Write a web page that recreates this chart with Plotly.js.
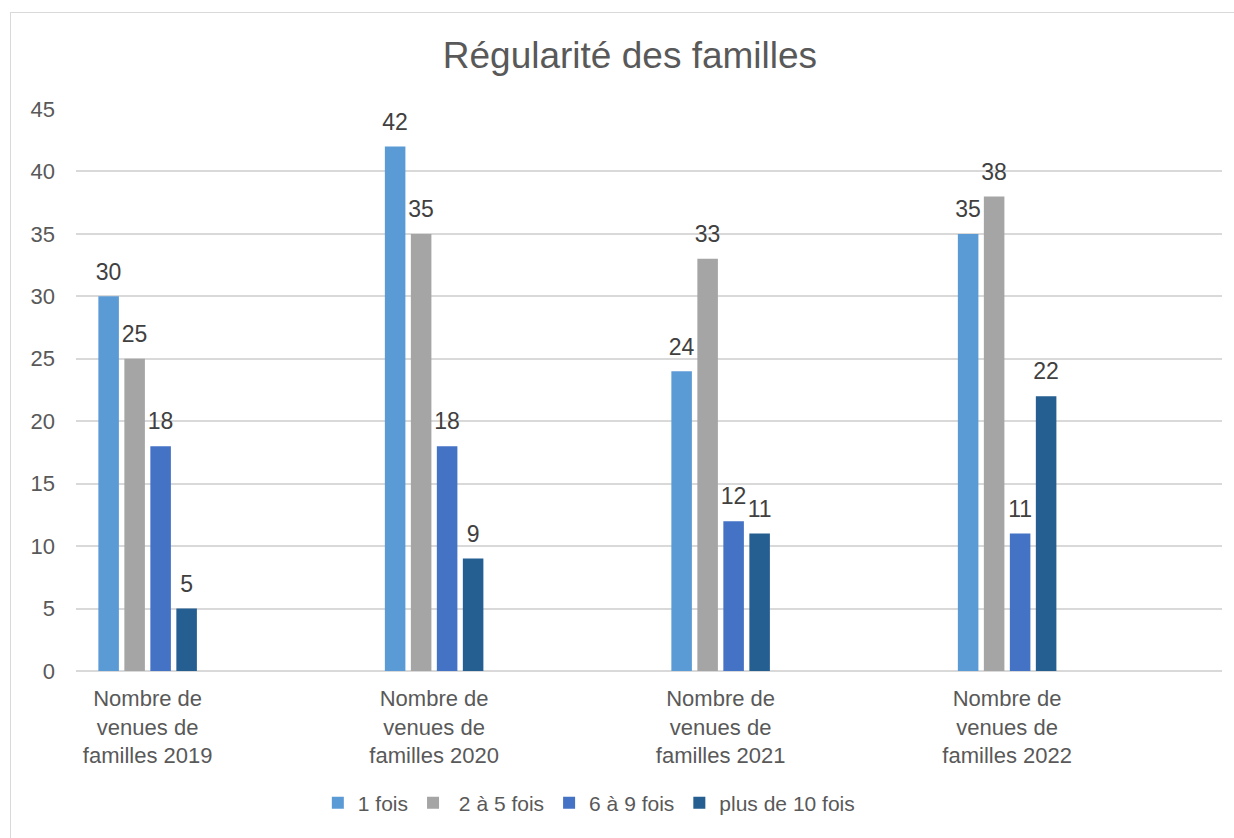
<!DOCTYPE html>
<html>
<head>
<meta charset="utf-8">
<script src="https://cdn.plot.ly/plotly-3.0.1.min.js"></script>
<style>
  html, body { margin: 0; padding: 0; background: #ffffff; overflow: hidden; }
  #frame { position: absolute; left: 10px; top: 12px; width: 1300px; height: 900px;
           border: 1.5px solid #D9D9D9; box-sizing: border-box; }
  #chart { position: absolute; left: 0; top: 0; width: 1234px; height: 838px; }
</style>
</head>
<body>
<div id="frame"></div>
<div id="chart"></div>
<script>
const categories = [
  "Nombre de<br>venues de<br>familles 2019",
  "Nombre de<br>venues de<br>familles 2020",
  "Nombre de<br>venues de<br>familles 2021",
  "Nombre de<br>venues de<br>familles 2022"
];
const seriesNames = ["1 fois", " 2 à 5 fois", "6 à 9 fois", "plus de 10 fois"];
const fois1 = [30, 42, 24, 35];
const fois2a5 = [25, 35, 33, 38];
const fois6a9 = [18, 18, 12, 11];
const plus10 = [5, 9, 11, 22];
const yTicks = [0, 5, 10, 15, 20, 25, 30, 35, 40, 45];

const colors = ["#5B9BD5", "#A5A5A5", "#4472C4", "#255E91"];
const seriesValues = [fois1, fois2a5, fois6a9, plus10];
const FONT = "Liberation Sans, Arial, sans-serif";

const barTraces = seriesValues.map((vals, i) => ({
  type: "bar",
  name: seriesNames[i],
  x: categories,
  y: vals,
  marker: { color: colors[i] },
  hoverinfo: "x+y+name"
}));

const labelTraces = seriesValues.map((vals, i) => ({
  type: "scatter",
  mode: "markers+text",
  name: seriesNames[i],
  showlegend: false,
  x: categories,
  y: vals,
  text: vals.map(String),
  textposition: "top center",
  textfont: { family: FONT, size: 23, color: "#404040" },
  marker: { size: 16, color: "rgba(0,0,0,0)" },
  cliponaxis: false,
  hoverinfo: "skip"
}));

const layout = {
  width: 1234,
  height: 838,
  paper_bgcolor: "rgba(0,0,0,0)",
  plot_bgcolor: "rgba(0,0,0,0)",
  margin: { l: 76, r: 12, t: 109, b: 167 },
  barmode: "group",
  bargap: 0.637,
  bargroupgap: 0.21,
  scattermode: "group",
  scattergap: 0.637,
  font: { family: FONT, size: 22, color: "#595959" },
  title: {
    text: "Régularité des familles",
    font: { family: FONT, size: 37, color: "#595959" },
    x: 0.5105, xref: "container", xanchor: "center",
    y: 0.934, yref: "container", yanchor: "middle"
  },
  xaxis: {
    type: "category",
    range: [-0.25, 3.75],
    showgrid: false,
    zeroline: false,
    showline: false,
    ticks: "",
    tickfont: { family: FONT, size: 22, color: "#595959" },
    ticklabelstandoff: 12
  },
  yaxis: {
    range: [0, 45],
    tickvals: yTicks,
    ticktext: yTicks.map(String),
    showgrid: true,
    gridcolor: "#D9D9D9",
    gridwidth: 1.5,
    zeroline: true,
    zerolinecolor: "#D9D9D9",
    zerolinewidth: 1.5,
    showline: false,
    ticks: "",
    tickfont: { family: FONT, size: 22, color: "#595959" },
    ticklabelstandoff: 20
  },
  showlegend: true,
  legend: {
    orientation: "h",
    x: 0.4475, xanchor: "center",
    y: -0.235, yanchor: "middle",
    font: { family: FONT, size: 21, color: "#595959" },
    itemwidth: 30,
    traceorder: "normal",
    bgcolor: "rgba(0,0,0,0)"
  }
};

Plotly.newPlot("chart", barTraces.concat(labelTraces), layout, { displayModeBar: false, responsive: false });
</script>
</body>
</html>
